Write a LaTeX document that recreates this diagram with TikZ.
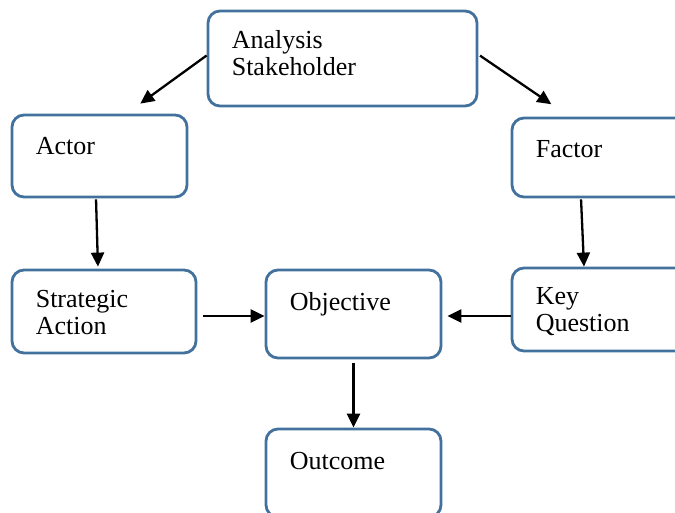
\documentclass[tikz,border=0pt]{standalone}
\usepackage{fontspec}
\setmainfont{Liberation Serif}
\usetikzlibrary{arrows.meta}

\begin{document}
\begin{tikzpicture}[x=1pt, y=-1pt,
        box/.style={draw=boxblue, line width=2.8pt, rounded corners=12pt, minimum width=175pt, minimum height=82pt},
        lbl/.style={anchor=base west, inner sep=0pt, align=left, font=\fontsize{26}{27}\selectfont},
        arr/.style={line width=2.3pt, -{Triangle[length=14pt,width=13pt]}}]
    \definecolor{boxblue}{RGB}{65,113,156}
        \useasboundingbox (0,0) rectangle (675,512);

        % boxes
        \node [box, minimum width=269pt, minimum height=95pt] (stake) at (342.5,58.5) {};
        \node [box] (actor) at (99.5,156) {};
        \node [box, minimum height=79pt] (factor) at (599.5,157.5) {};
        \node [box, minimum width=184pt, minimum height=83pt] (strat) at (104,311.5) {};
        \node [box, minimum height=88pt] (obj) at (353.5,314) {};
        \node [box, minimum height=83pt] (keyq) at (599.5,309.5) {};
        \node [box, minimum height=88pt] (outcome) at (353.5,473) {};

        % texts (base = last line)
        \node [lbl] (stakeT) at ([xshift=25pt,yshift=-66pt]stake.north west) {Analysis\\Stakeholder};
        \node [lbl] (actorT) at ([xshift=25pt,yshift=-41pt]actor.north west) {Actor};
        \node [lbl] (factorT) at ([xshift=25pt,yshift=-41pt]factor.north west) {Factor};
        \node [lbl] (stratT) at ([xshift=25pt,yshift=-66pt]strat.north west) {Strategic\\Action};
        \node [lbl] (objT) at ([xshift=25pt,yshift=-42pt]obj.north west) {Objective};
        \node [lbl] (keyqT) at ([xshift=25pt,yshift=-65pt]keyq.north west) {Key\\Question};
        \node [lbl] (outcomeT) at ([xshift=25pt,yshift=-42pt]outcome.north west) {Outcome};

        % arrows
        \draw [arr, shorten >=17pt] ([yshift=3pt]stake.west) -- ([xshift=27pt]actor.north);
        \draw [arr, shorten <=2pt, shorten >=22pt] ([yshift=4pt]stake.east) -- ([xshift=-30pt]factor.north);
        \draw [arr, shorten <=1pt, shorten >=2pt] ([xshift=-3.5pt]actor.south) -- ([xshift=-6pt]strat.north);
        \draw [arr, shorten <=1pt, shorten >=0pt] ([xshift=-18.5pt]factor.south) -- ([xshift=-15.5pt]keyq.north);
        \draw [arr, shorten <=6pt] ([yshift=-4.5pt]strat.east) -- ([yshift=-2pt]obj.west);
        \draw [arr, shorten >=5pt] ([yshift=-6.5pt]keyq.west) -- ([yshift=-2pt]obj.east);
        \draw [arr, shorten <=4pt] (obj.south) -- (outcome.north);

    \end{tikzpicture}
\end{document}
